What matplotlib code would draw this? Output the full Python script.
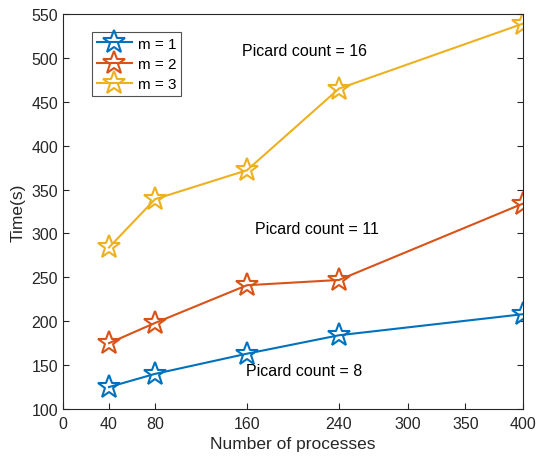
import numpy as np
import matplotlib
matplotlib.use("Agg")
import matplotlib.pyplot as plt

plt.rcParams['font.family'] = ['Liberation Sans', 'DejaVu Sans']

# data
procs = [40, 80, 160, 240, 400]
time_m1 = [125, 140, 163, 184, 208]
time_m2 = [175, 198, 241, 247, 334]
time_m3 = [284, 339, 372, 465, 539]
labels = ['m = 1', 'm = 2', 'm = 3']
colors = ['#0072BD', '#D95319', '#EDB120']
xticks = [0, 40, 80, 160, 240, 300, 350, 400]

fig = plt.figure(figsize=(5.39, 4.64), dpi=100)
ax = fig.add_axes([0.1169, 0.1164, 0.8534, 0.8513])

for y, lab, c in zip([time_m1, time_m2, time_m3], labels, colors):
    ax.plot(procs, y, '-', color=c, lw=1.5, marker='*', ms=17,
            mfc='none', mew=1.5, label=lab)

ax.text(210, 508, 'Picard count = 16', ha='center', va='center', fontsize=11.5)
ax.text(221, 306, 'Picard count = 11', ha='center', va='center', fontsize=11.5)
ax.text(210, 144, 'Picard count = 8', ha='center', va='center', fontsize=11.5)

ax.set_xlim(0, 400)
ax.set_ylim(100, 550)
ax.set_xticks(xticks)
ax.set_yticks(np.arange(100, 551, 50))
ax.tick_params(direction='in', labelsize=11.5, length=4.5, colors='#262626',
               top=False, right=True)
ax.tick_params(axis='x', pad=5)
ax.set_xlabel('Number of processes', fontsize=12.5, color='#262626', labelpad=4)
ax.set_ylabel('Time(s)', fontsize=12.5, color='#262626', labelpad=4)
for s in ax.spines.values():
    s.set_color('#262626')
    s.set_linewidth(0.8)

leg = ax.legend(loc='upper left', bbox_to_anchor=(0.063, 0.954), fontsize=11,
                frameon=True, fancybox=False, edgecolor='#262626',
                handlelength=2.3, borderpad=0.3, labelspacing=0.4,
                handletextpad=0.4, markerscale=1.0, borderaxespad=0)
leg.get_frame().set_linewidth(0.8)

fig.savefig('out.png', dpi=100)
